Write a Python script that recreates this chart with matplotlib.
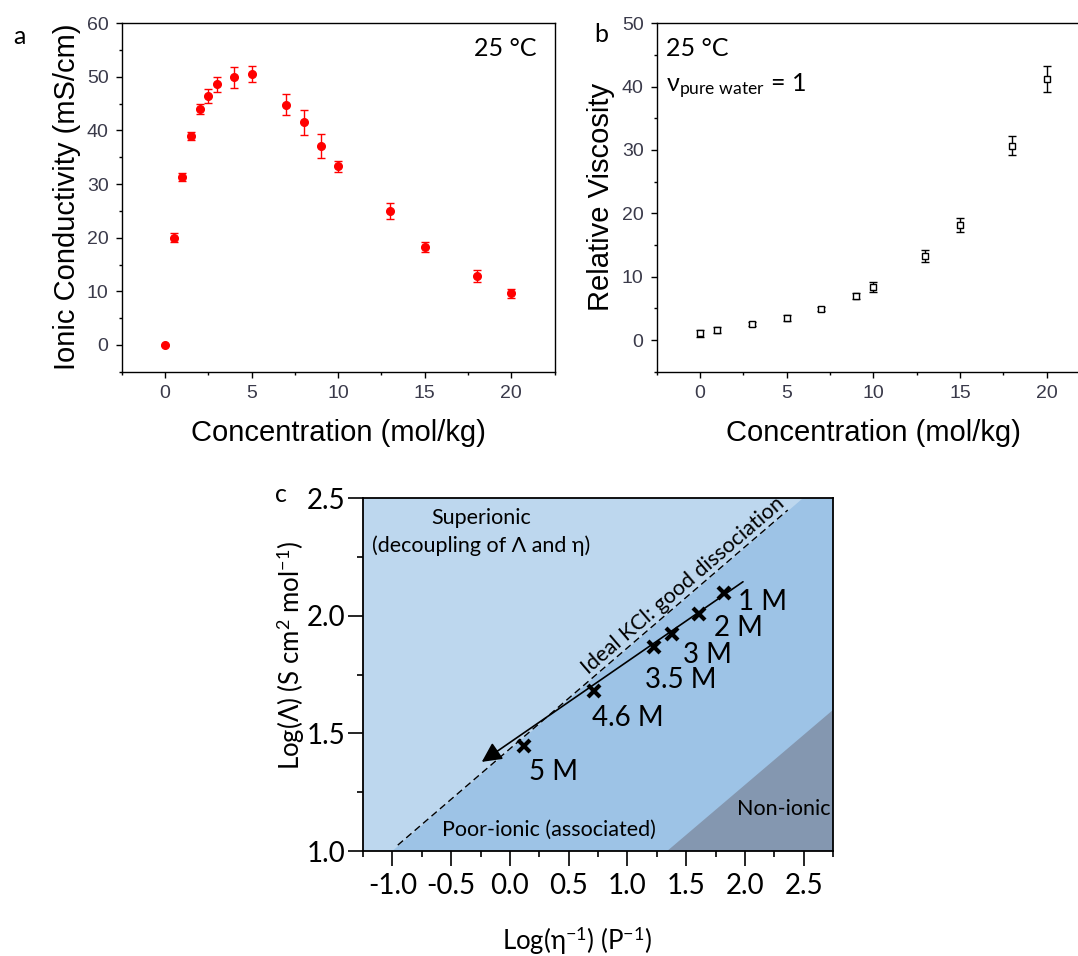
import matplotlib
matplotlib.use("Agg")
import matplotlib.pyplot as plt
from matplotlib.ticker import MultipleLocator

plt.rcParams['mathtext.fontset'] = 'custom'
plt.rcParams['mathtext.rm'] = 'Lato'
plt.rcParams['mathtext.it'] = 'Lato:italic'
plt.rcParams['mathtext.bf'] = 'Lato:bold'

# panel a: ionic conductivity vs concentration
conc_a = [0, 0.5, 1, 1.5, 2, 2.5, 3, 4, 5, 7, 8, 9, 10, 13, 15, 18, 20]
cond = [0, 20.0, 31.3, 39.0, 44.0, 46.5, 48.6, 49.9, 50.6, 44.8, 41.5, 37.1, 33.3, 25.0, 18.3, 12.9, 9.6]
cond_err = [0, 0.8, 0.8, 0.7, 1.0, 1.3, 1.4, 1.9, 1.5, 2.0, 2.3, 2.2, 1.0, 1.5, 0.9, 1.1, 0.9]

# panel b: relative viscosity
conc_b = [0, 1, 3, 5, 7, 9, 10, 13, 15, 18, 20]
visc = [1.05, 1.6, 2.5, 3.5, 4.9, 7.0, 8.4, 13.2, 18.2, 30.7, 41.2]
visc_err = [0.5, 0.5, 0.3, 0.5, 0.3, 0.5, 0.8, 0.95, 1.1, 1.55, 2.1]

# panel c: Walden plot
molal = ['1 M', '2 M', '3 M', '3.5 M', '4.6 M', '5 M']
log_fluid = [1.826, 1.610, 1.378, 1.226, 0.720, 0.121]
log_molar = [2.096, 2.006, 1.923, 1.869, 1.682, 1.448]
trend_x = [1.984, -0.239]
trend_y = [2.145, 1.379]
ideal_x = [-0.954, 2.365]
ideal_y = [1.025, 2.45]
poor_x = [-1.0, 2.493]
poor_y = [1.0, 2.5]
nonionic_x = [1.339, 2.75]
nonionic_y = [1.0, 1.6]

W, H = 1078, 956
fig = plt.figure(figsize=(W / 100, H / 100), dpi=100)

def px(x, y):
    return x / W, 1 - y / H

arial = 'Liberation Sans'
cal = ['Lato', 'DejaVu Sans']
tick_col = '#3a3a4a'

def style_ab(ax):
    ax.tick_params(which='both', direction='out', top=False, right=False,
                   labelsize=14, labelcolor=tick_col, width=1)
    ax.tick_params(which='major', length=4.5, pad=5)
    ax.tick_params(which='minor', length=2.5)
    for lab in ax.get_xticklabels() + ax.get_yticklabels():
        lab.set_family(arial)
    for s in ax.spines.values():
        s.set_linewidth(1.0)

# ---- a ----
ax1 = fig.add_axes([121.7 / W, 1 - 371.7 / H, 432.9 / W, 348.4 / H])
ax1.errorbar(conc_a, cond, yerr=cond_err, fmt='o', color='#ff0000', ms=5.5,
             elinewidth=1, capsize=3, capthick=1)
ax1.set_xlim(-2.5, 22.5)
ax1.set_ylim(-5, 60)
ax1.xaxis.set_major_locator(MultipleLocator(5))
ax1.xaxis.set_minor_locator(MultipleLocator(2.5))
ax1.yaxis.set_major_locator(MultipleLocator(10))
ax1.yaxis.set_minor_locator(MultipleLocator(5))
style_ab(ax1)
fig.text(*px(338, 433), 'Concentration (mol/kg)', family=arial, fontsize=21,
         ha='center', va='center')
fig.text(*px(67, 197), 'Ionic Conductivity (mS/cm)', family=arial, fontsize=21,
         ha='center', va='center', rotation=90)
fig.text(*px(536, 48), '25 °C', family=cal, fontsize=18, ha='right', va='center')
fig.text(*px(19, 37), 'a', family=cal, fontsize=18, ha='center', va='center')

# ---- b ----
ax2 = fig.add_axes([656.7 / W, 1 - 371.7 / H, 433.3 / W, 348.4 / H])
ax2.errorbar(conc_b, visc, yerr=visc_err, fmt='s', mfc='white', mec='black',
             mew=1, ms=5, color='black', elinewidth=1, capsize=3, capthick=1)
ax2.set_xlim(-2.5, 22.5)
ax2.set_ylim(-5, 50)
ax2.xaxis.set_major_locator(MultipleLocator(5))
ax2.xaxis.set_minor_locator(MultipleLocator(2.5))
ax2.yaxis.set_major_locator(MultipleLocator(10))
ax2.yaxis.set_minor_locator(MultipleLocator(5))
style_ab(ax2)
fig.text(*px(873, 433), 'Concentration (mol/kg)', family=arial, fontsize=21,
         ha='center', va='center')
fig.text(*px(601, 197), 'Relative Viscosity', family=arial, fontsize=21,
         ha='center', va='center', rotation=90)
fig.text(*px(666, 48), '25 °C', family=cal, fontsize=18, ha='left', va='center')
fig.text(*px(666, 86), 'ν$_{\\mathrm{pure\\ water}}$ = 1', family=cal, fontsize=18,
         ha='left', va='center')
fig.text(*px(601, 35), 'b', family=cal, fontsize=18, ha='center', va='center')

# ---- c ----
ax3 = fig.add_axes([363 / W, 1 - 851 / H, 470 / W, 352.7 / H])
ax3.set_xlim(-1.25, 2.75)
ax3.set_ylim(1.0, 2.5)
ax3.set_facecolor('#bdd7ee')
ax3.fill([poor_x[0], poor_x[1], 2.75, 2.75], [poor_y[0], poor_y[1], 2.5, 1.0],
         color='#9dc3e6', lw=0, zorder=1)
ax3.fill([nonionic_x[0], nonionic_x[1], nonionic_x[1]],
         [nonionic_y[0], nonionic_y[1], nonionic_y[0]],
         color='#8497b0', lw=0, zorder=2)
ax3.plot(ideal_x, ideal_y, ls=(0, (5, 3)), color='black', lw=1, zorder=3)
ax3.annotate('', xy=(trend_x[1], trend_y[1]), xytext=(trend_x[0], trend_y[0]),
             arrowprops=dict(arrowstyle='-|>,head_length=0.6,head_width=0.3',
                             color='black', lw=1.2, mutation_scale=20,
                             shrinkA=0, shrinkB=0), zorder=4)
ax3.plot(log_fluid, log_molar, 'x', color='black', ms=9, mew=3, zorder=5)
offsets = [(10, -6), (10.5, -10), (8.3, -15), (-6.5, -24), (-1.8, -20), (3.5, -19)]
for name, xv, yv, off in zip(molal, log_fluid, log_molar, offsets):
    ax3.annotate(name, (xv, yv), xytext=off, textcoords='offset points',
                 family=cal, fontsize=20, ha='left', va='center', zorder=6)
ax3.text(-0.248, 2.415, 'Superionic', family=cal, fontsize=15.5, ha='center', va='center')
ax3.text(-0.245, 2.297, '(decoupling of Λ and η)', family=cal, fontsize=15.5,
         ha='center', va='center')
ax3.text(0.334, 1.089, 'Poor-ionic (associated)', family=cal, fontsize=15.5,
         ha='center', va='center')
ax3.text(2.331, 1.177, 'Non-ionic', family=cal, fontsize=15.5, ha='center', va='center')
ax3.text(1.47, 2.13, 'Ideal KCl: good dissociation', family=cal, fontsize=15.5,
         ha='center', va='center', rotation=40.7, rotation_mode='anchor')
ax3.xaxis.set_major_locator(MultipleLocator(0.5))
ax3.xaxis.set_minor_locator(MultipleLocator(0.25))
ax3.yaxis.set_major_locator(MultipleLocator(0.5))
ax3.yaxis.set_minor_locator(MultipleLocator(0.25))
ax3.xaxis.set_major_formatter(plt.FuncFormatter(lambda v, p: f'{v:.1f}'))
ax3.yaxis.set_major_formatter(plt.FuncFormatter(lambda v, p: f'{v:.1f}'))
ax3.tick_params(which='both', direction='out', labelsize=20, width=1.2)
ax3.tick_params(which='major', length=11)
ax3.tick_params(which='minor', length=4.5)
ax3.tick_params(axis='x', which='major', pad=5)
ax3.tick_params(axis='y', which='major', pad=2)
for lab in ax3.get_xticklabels() + ax3.get_yticklabels():
    lab.set_family(cal)
for s in ax3.spines.values():
    s.set_linewidth(1.3)
    s.set_zorder(7)
fig.text(*px(577, 941), 'Log(η$^{-1}$) (P$^{-1}$)', family=cal, fontsize=18.5,
         ha='center', va='center')
fig.text(*px(291, 655), 'Log(Λ) (S cm$^{2}$ mol$^{-1}$)', family=cal, fontsize=18.5,
         ha='center', va='center', rotation=90)
fig.text(*px(281, 494), 'c', family=cal, fontsize=18, ha='center', va='center')

fig.savefig('out.png', dpi=100)
